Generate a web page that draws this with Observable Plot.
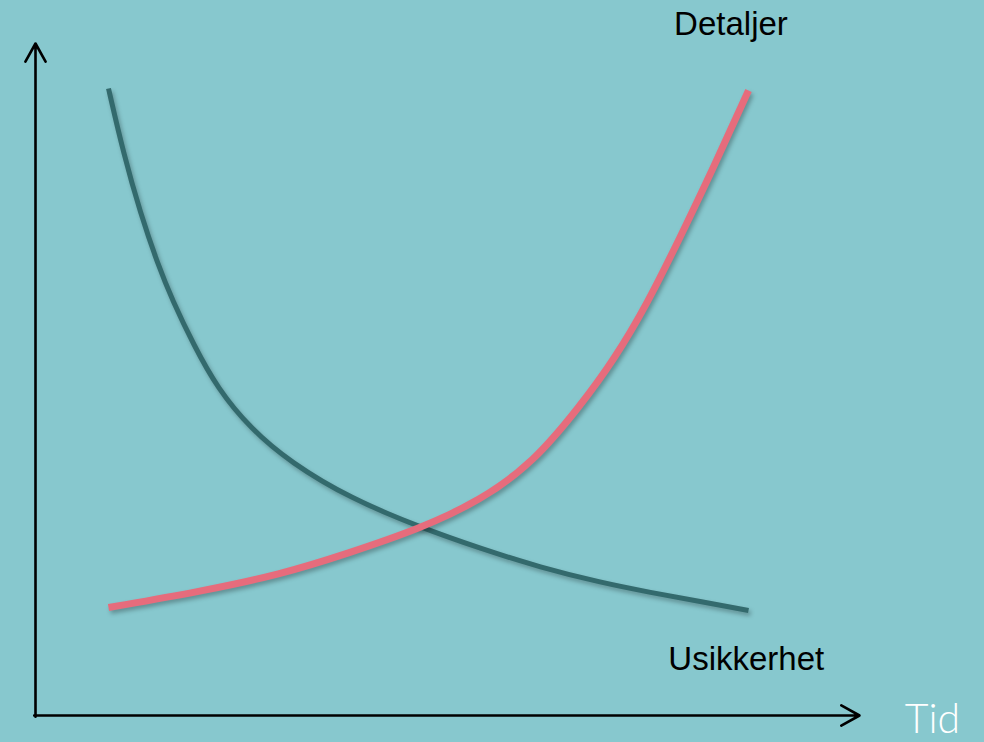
<!DOCTYPE html>
<html>
<head>
<meta charset="utf-8">
<script src="https://cdn.jsdelivr.net/npm/d3@7"></script>
<script src="https://cdn.jsdelivr.net/npm/@observablehq/plot@0.6"></script>
<style>
  html, body { margin: 0; padding: 0; background: #87C8CE; }
  #chart svg { display: block; }
  .shadow path { filter: drop-shadow(2px 3px 2px rgba(0,0,0,0.28)); }
</style>
</head>
<body>
<div id="chart"></div>
<script>
// Usikkerhet (uncertainty) – decreasing over time
const usikkerhetTid   = [8.86, 10.68, 12.74, 14.81, 16.63, 19.17, 22.09, 26.09, 30.95, 38.23, 46.72, 54.0, 61.29, 68.57, 74.64, 80.7, 86.53];
const usikkerhetVerdi = [93.3, 83.63, 74.7, 67.26, 61.76, 55.21, 48.66, 42.71, 37.65, 32.29, 27.98, 24.85, 22.02, 19.79, 18.3, 16.96, 15.63];
// Detaljer (details) – increasing over time
const detaljerTid   = [8.86, 20.02, 29.73, 37.86, 46.72, 54.0, 60.44, 66.14, 70.15, 74.27, 78.28, 82.28, 86.53];
const detaljerVerdi = [16.07, 18.45, 20.98, 24.11, 27.83, 31.99, 37.65, 46.13, 52.83, 61.31, 71.28, 81.55, 93.01];

const labels = ["Detaljer", "Usikkerhet", "Tid"];

const usikkerhet = usikkerhetTid.map((t, i) => ({t, v: usikkerhetVerdi[i]}));
const detaljer = detaljerTid.map((t, i) => ({t, v: detaljerVerdi[i]}));

const chart = Plot.plot({
  width: 984,
  height: 742,
  marginLeft: 35,
  marginRight: 125,
  marginTop: 43,
  marginBottom: 27,
  x: {domain: [0, 100], axis: null},
  y: {domain: [0, 100], axis: null},
  style: {background: "#87C8CE", overflow: "visible"},
  marks: [
    Plot.arrow([{x1: 0, y1: 0, x2: 0, y2: 100}], {
      x1: "x1", y1: "y1", x2: "x2", y2: "y2",
      stroke: "#000", strokeWidth: 2.6, headLength: 12, headAngle: 58, insetStart: -1.3
    }),
    Plot.arrow([{x1: 0, y1: 0, x2: 100, y2: 0}], {
      x1: "x1", y1: "y1", x2: "x2", y2: "y2",
      stroke: "#000", strokeWidth: 2.6, headLength: 12, headAngle: 58, insetStart: -1.3
    }),
    Plot.line(usikkerhet, {
      x: "t", y: "v", curve: "basis",
      stroke: "#336A6D", strokeWidth: 5, strokeLinecap: "butt", className: "shadow"
    }),
    Plot.line(detaljer, {
      x: "t", y: "v", curve: "basis",
      stroke: "#E66C7C", strokeWidth: 7, strokeLinecap: "butt", className: "shadow"
    }),
    Plot.text([labels[0]], {
      x: 77.5, y: 101.2, text: d => d, textAnchor: "start", lineAnchor: "bottom",
      fontSize: 33, fill: "#000", fontFamily: "Liberation Sans, Arial, sans-serif"
    }),
    Plot.text([labels[1]], {
      x: 76.8, y: 6.8, text: d => d, textAnchor: "start", lineAnchor: "bottom",
      fontSize: 33, fill: "#000", fontFamily: "Liberation Sans, Arial, sans-serif"
    }),
    Plot.text([labels[2]], {
      x: 105.5, y: -2.6, text: d => d, textAnchor: "start", lineAnchor: "bottom",
      fontSize: 41, fill: "#fff", fontWeight: 300, fontFamily: "Lato, Open Sans, sans-serif"
    })
  ]
});
document.getElementById("chart").appendChild(chart);
</script>
</body>
</html>
